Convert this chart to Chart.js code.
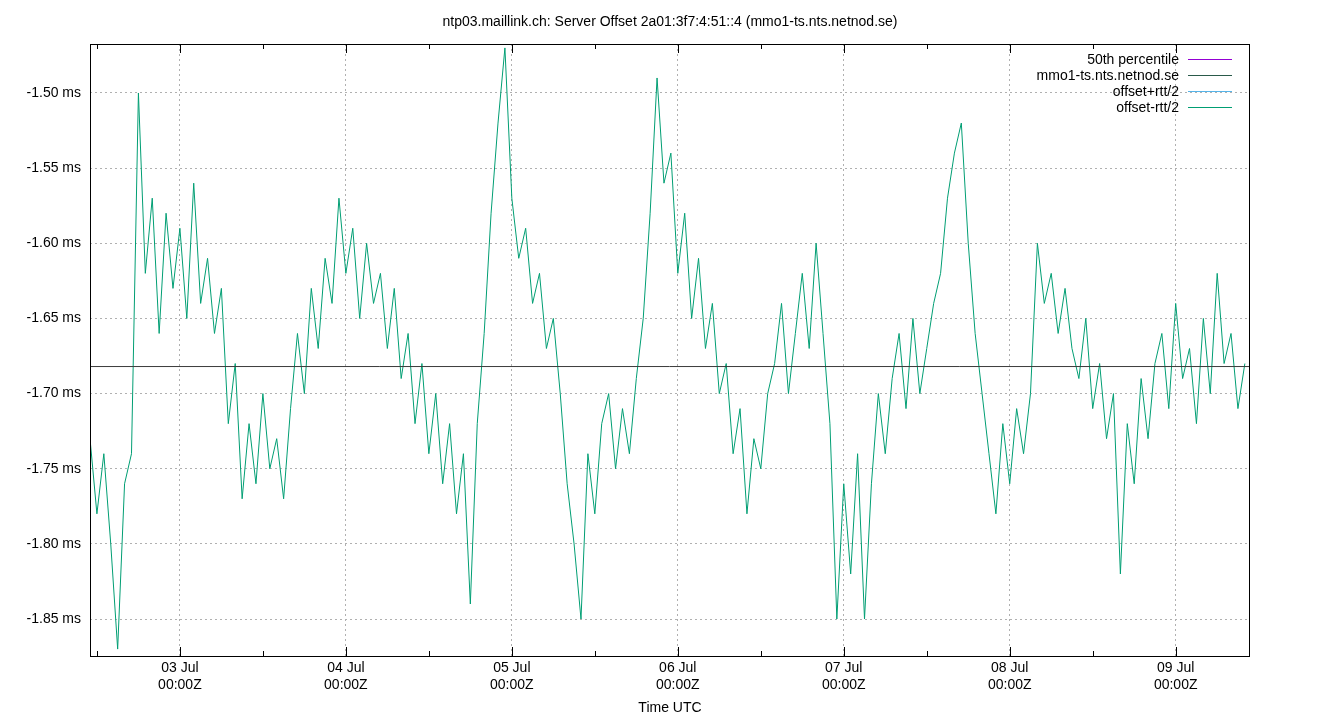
<!DOCTYPE html>
<html>
<head>
<meta charset="utf-8">
<script src="https://cdn.jsdelivr.net/npm/chart.js@4/dist/chart.umd.min.js"></script>
<style>body{margin:0;background:#fff}canvas{display:block}</style>
</head>
<body>
<canvas id="c" width="1340" height="720"></canvas>
<script>
// hours relative to 03 Jul 00:00Z, one reading per hour from 02 Jul 11:00Z
const startHour = -13;
const offsetMs = [
  -1.73,-1.78,-1.74,-1.80,-1.87,-1.76,-1.74,
  -1.50,-1.62,-1.57,-1.66,-1.58,-1.63,
  -1.59,-1.65,-1.56,-1.64,-1.61,
  -1.66,-1.63,-1.72,-1.68,-1.77,
  -1.72,-1.76,-1.70,-1.75,-1.73,-1.77,
  -1.71,-1.66,-1.70,-1.63,-1.67,-1.61,
  -1.64,-1.57,-1.62,-1.59,-1.65,-1.60,-1.64,-1.62,
  -1.67,-1.63,-1.69,-1.66,-1.72,-1.68,-1.74,-1.70,-1.76,-1.72,
  -1.78,-1.74,-1.84,-1.72,
  -1.66,-1.58,-1.52,-1.47,
  -1.57,-1.61,-1.59,-1.64,-1.62,-1.67,-1.65,-1.70,
  -1.76,-1.80,-1.85,-1.74,-1.78,-1.72,
  -1.70,-1.75,-1.71,-1.74,-1.69,-1.65,
  -1.58,-1.49,-1.56,-1.54,
  -1.62,-1.58,-1.65,-1.61,-1.67,-1.64,-1.70,-1.68,
  -1.74,-1.71,-1.78,-1.73,-1.75,-1.70,
  -1.68,-1.64,-1.70,-1.66,-1.62,-1.67,-1.60,-1.66,
  -1.72,-1.85,-1.76,-1.82,-1.74,-1.85,
  -1.76,-1.70,-1.74,-1.69,
  -1.66,-1.71,-1.65,-1.70,-1.67,-1.64,
  -1.62,-1.57,-1.54,-1.52,
  -1.60,-1.66,-1.70,-1.74,
  -1.78,-1.72,-1.76,-1.71,-1.74,-1.70,
  -1.60,-1.64,-1.62,-1.66,-1.63,-1.67,
  -1.69,-1.65,-1.71,-1.68,-1.73,-1.70,
  -1.82,-1.72,-1.76,-1.69,-1.73,-1.68,
  -1.66,-1.71,-1.64,-1.69,-1.67,-1.72,-1.65,-1.70,-1.62,-1.68,-1.66,-1.71,-1.68
];
const median = -1.682;
const dayLabels = ["03 Jul","04 Jul","05 Jul","06 Jul","07 Jul","08 Jul","09 Jul"];
const yTicks = [-1.50,-1.55,-1.60,-1.65,-1.70,-1.75,-1.80,-1.85];
const xMin = -13, xMax = 154.6;

const pts = offsetMs.map((v, i) => ({x: startHour + i, y: v}));

const frame = {
  id: "frame",
  afterDraw(chart) {
    const {ctx, chartArea: a} = chart;
    ctx.save();
    ctx.strokeStyle = "#000"; ctx.lineWidth = 1;
    ctx.strokeRect(a.left + .5, a.top + .5, a.right - a.left, a.bottom - a.top);
    // minor ticks every 12h
    for (let h = -12; h < xMax; h += 12) {
      const x = Math.round(chart.scales.x.getPixelForValue(h)) + .5;
      const len = h % 24 === 0 ? 9 : 5;
      ctx.beginPath(); ctx.moveTo(x, a.bottom); ctx.lineTo(x, a.bottom - len);
      ctx.moveTo(x, a.top); ctx.lineTo(x, a.top + len); ctx.stroke();
    }
    ctx.font = "14px 'Liberation Sans', Arial";
    ctx.fillStyle = "#000"; ctx.textAlign = "center";
    ctx.fillText("ntp03.maillink.ch: Server Offset 2a01:3f7:4:51::4 (mmo1-ts.nts.netnod.se)", 670, 26);
    ctx.fillText("Time UTC", 670, 712);
    // legend
    ctx.textAlign = "right";
    chart.data.datasets.forEach((d, i) => {
      const y = 59 + i * 16;
      ctx.fillStyle = "#000";
      ctx.fillText(d.label, 1179, y + 5);
      ctx.strokeStyle = d.legendColor;
      ctx.beginPath(); ctx.moveTo(1188, y + .5); ctx.lineTo(1232, y + .5); ctx.stroke();
    });
    ctx.restore();
  }
};

new Chart(document.getElementById("c"), {
  type: "line",
  data: {
    datasets: [
      {label: "50th percentile", legendColor: "#9400d3", data: [{x: xMin, y: median}, {x: xMax, y: median}], borderColor: "#3a3a3a", borderWidth: 1, pointRadius: 0},
      {label: "mmo1-ts.nts.netnod.se", legendColor: "#2a5a4a", data: [], borderColor: "#2a5a4a", borderWidth: 1, pointRadius: 0},
      {label: "offset+rtt/2", legendColor: "#56b4e9", data: [], borderColor: "#56b4e9", borderWidth: 1, pointRadius: 0},
      {label: "offset-rtt/2", legendColor: "#009e73", data: pts, borderColor: "#009e73", borderWidth: 1, pointRadius: 0}
    ]
  },
  options: {
    responsive: false, animation: false,
    layout: {padding: {top: 44, right: 91}},
    plugins: {legend: {display: false}, tooltip: {enabled: false}},
    scales: {
      x: {
        type: "linear", min: xMin, max: xMax,
        afterFit: s => { s.height = 64; },
        afterBuildTicks: s => { s.ticks = dayLabels.map((_, i) => ({value: i * 24})); },
        ticks: {color: "#000", font: {size: 14, family: "'Liberation Sans', Arial"}, maxRotation: 0, padding: 4,
          callback: v => [dayLabels[v / 24], "00:00Z"]},
        grid: {color: "#b0b0b0", tickLength: 0},
        border: {display: false, dash: [2, 3]}
      },
      y: {
        min: -1.8746, max: -1.4674,
        afterFit: s => { s.width = 90; },
        afterBuildTicks: s => { s.ticks = yTicks.map(v => ({value: v})); },
        ticks: {color: "#000", font: {size: 14, family: "'Liberation Sans', Arial"}, padding: 9,
          callback: v => v.toFixed(2) + " ms"},
        grid: {color: "#b0b0b0", tickLength: 0},
        border: {display: false, dash: [2, 3]}
      }
    }
  },
  plugins: [frame]
});
</script>
</body>
</html>
